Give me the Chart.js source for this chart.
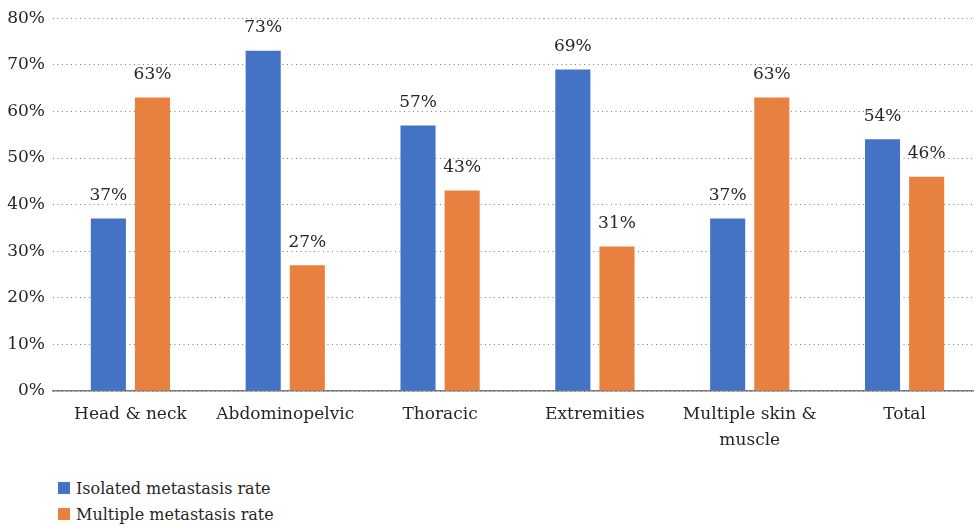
<!DOCTYPE html>
<html>
<head>
<meta charset="utf-8">
<script src="https://cdn.jsdelivr.net/npm/chart.js@4.4.1/dist/chart.umd.min.js"></script>
<style>
  html, body { margin: 0; padding: 0; background: #fff; overflow: hidden; }
  #wrap { position: relative; width: 974px; height: 528px; overflow: hidden; }
  #box { position: absolute; left: 0; top: 0; width: 982px; height: 470px; }
  #legend { position: absolute; left: 58px; top: 475px; font-family: "DejaVu Serif", serif; font-size: 16px; color: #262626; }
  .item { display: flex; align-items: center; height: 26px; }
  .sw { width: 12px; height: 12px; margin-right: 6px; }
</style>
</head>
<body>
<div id="wrap">
  <div id="box"><canvas id="c"></canvas></div>
  <div id="legend"></div>
</div>
<script>
const categories = ["Head & neck", "Abdominopelvic", "Thoracic", "Extremities", ["Multiple skin &", "muscle"], "Total"];
const isolatedRate = [37, 73, 57, 69, 37, 54];
const multipleRate = [63, 27, 43, 31, 63, 46];
const seriesNames = ["Isolated metastasis rate", "Multiple metastasis rate"];
const seriesColors = ["#4472C4", "#E8803F"];

const FONT = '"DejaVu Serif", serif';

// Percentage labels above each bar
const valueLabels = {
  id: 'valueLabels',
  afterDatasetsDraw(chart) {
    const ctx = chart.ctx;
    ctx.save();
    ctx.font = '17px ' + FONT;
    ctx.fillStyle = '#262626';
    ctx.textAlign = 'center';
    ctx.textBaseline = 'middle';
    chart.data.datasets.forEach((ds, i) => {
      chart.getDatasetMeta(i).data.forEach((bar, j) => {
        ctx.fillText(ds.data[j] + '%', bar.x, bar.y - 23);
      });
    });
    ctx.restore();
  }
};

new Chart(document.getElementById('c'), {
  type: 'bar',
  data: {
    labels: categories,
    datasets: [
      { label: seriesNames[0], data: isolatedRate, backgroundColor: seriesColors[0] },
      { label: seriesNames[1], data: multipleRate, backgroundColor: seriesColors[1] }
    ]
  },
  options: {
    responsive: true,
    maintainAspectRatio: false,
    animation: false,
    layout: { padding: { top: 18, left: 0, right: 0, bottom: 0 } },
    datasets: { bar: { categoryPercentage: 0.57, barPercentage: 0.795 } },
    plugins: { legend: { display: false }, tooltip: { enabled: false } },
    scales: {
      x: {
        grid: { display: false },
        border: { display: true, color: '#7a7a7a', width: 1.5 },
        ticks: { color: '#262626', font: { family: FONT, size: 17, lineHeight: 1.55 }, padding: 2, maxRotation: 0 },
        afterFit(s) { s.height = 79; }
      },
      y: {
        min: 0, max: 80,
        grid: { color: '#7f7f7f', lineWidth: 1, drawTicks: false },
        border: { display: false, dash: [1, 3.5] },
        ticks: { stepSize: 10, color: '#262626', font: { family: FONT, size: 17 }, padding: 8,
                 callback: v => v + '%' },
        afterFit(s) { s.width = 53; }
      }
    }
  },
  plugins: [valueLabels]
});

// Legend stacked vertically under the plot
const lg = document.getElementById('legend');
seriesNames.forEach((n, i) => {
  const d = document.createElement('div');
  d.className = 'item';
  d.innerHTML = '<span class="sw" style="background:' + seriesColors[i] + '"></span><span>' + n + '</span>';
  lg.appendChild(d);
});
</script>
</body>
</html>
